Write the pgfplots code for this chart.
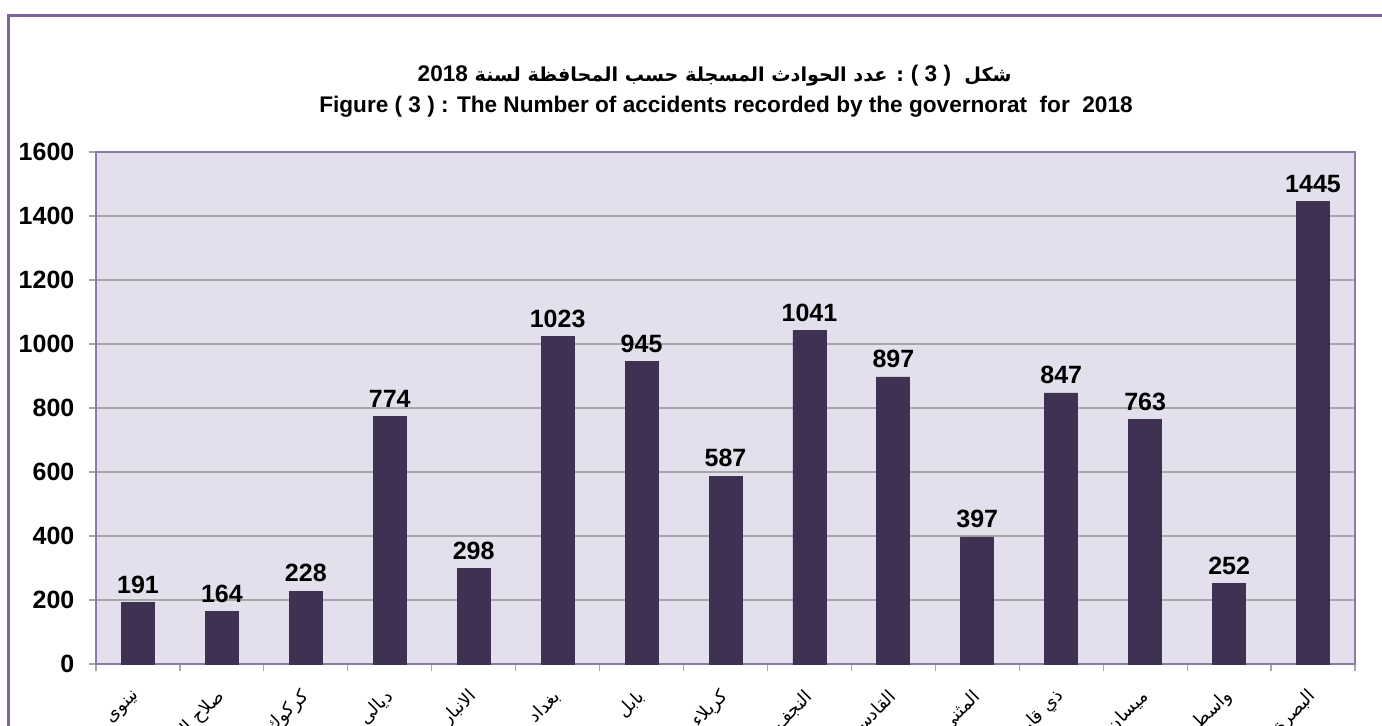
\documentclass[border=0pt]{standalone}
\usepackage{pgfplots}
\pgfplotsset{compat=1.18}
\usepackage{fontspec}
\setmainfont{Liberation Sans}
\newfontfamily\arabicfont[Script=Arabic]{DejaVu Sans}
\TeXXeTstate=1
\definecolor{barcol}{HTML}{3F3151}
\definecolor{plotbg}{HTML}{E4DFEC}
\definecolor{purp}{HTML}{8064A2}
\definecolor{axpurp}{HTML}{8C7BA5}
\definecolor{gridgray}{HTML}{A6A6A6}
\begin{document}
\begin{tikzpicture}
\useasboundingbox (0,0) rectangle (691pt,362.5pt);
\clip (0,0) rectangle (691pt,362.5pt);
\draw[purp, line width=1.5pt] (4.25pt,-20pt) rectangle (720pt,354.6pt);
\node[anchor=base east, inner sep=0pt, font=\bfseries\fontsize{11.3}{13}\selectfont] at (506pt,322pt)
 {{\arabicfont\bfseries\fontsize{9.6}{12}\selectfont\beginR شكل\ \ {\normalfont\bfseries\fontsize{11.3}{13}\selectfont\beginL( 3 )\endL} : عدد الحوادث المسجلة حسب المحافظة لسنة {\normalfont\bfseries\fontsize{11.3}{13}\selectfont\beginL 2018\endL}\endR}};
\node[anchor=base, inner sep=0pt, font=\bfseries\fontsize{11.3}{13}\selectfont] at (363pt,306.5pt)
 {Figure ( 3 ) : The Number of accidents recorded by the governorat\ \ for\ \ 2018};
\begin{axis}[
  at={(48pt,30.5pt)}, anchor=south west,
  width=629.5pt, height=256pt, scale only axis,
  xmin=0.5, xmax=15.5, ymin=0, ymax=1600,
  ybar, bar width=16.5pt,
  axis background/.style={fill=plotbg},
  axis line style={draw=axpurp, line width=1.2pt},
  ymajorgrids, grid style={draw=gridgray, line width=0.7pt},
  ytick={0,200,...,1600},
  xtick={1,...,15},
  minor xtick={0.5,1.5,...,15.5},
  tick align=outside,
  xtick pos=bottom, ytick pos=left,
  major tick length=3.5pt, minor tick length=3.5pt,
  major x tick style={draw=none},
  minor x tick style={draw=gridgray, line width=0.6pt},
  major y tick style={draw=gridgray, line width=0.6pt},
  /pgf/number format/assume math mode=true,
  /pgf/number format/1000 sep={},
  yticklabel style={font=\bfseries\fontsize{12.5}{15}\selectfont, xshift=-3.8pt},
  xticklabels={{\beginR نينوى\endR},{\beginR صلاح الدين\endR},{\beginR كركوك\endR},{\beginR ديالى\endR},{\beginR الانبار\endR},{\beginR بغداد\endR},{\beginR بابل\endR},{\beginR كربلاء\endR},{\beginR النجف\endR},{\beginR القادسية\endR},{\beginR المثنى\endR},{\beginR ذي قار\endR},{\beginR ميسان\endR},{\beginR واسط\endR},{\beginR البصرة\endR}},
  xticklabel style={font=\arabicfont\fontsize{9}{11}\selectfont, anchor=east, xshift=2.5pt, yshift=-9pt, rotate=45},
  nodes near coords={\bfseries\pgfmathprintnumber[assume math mode=true,1000 sep={}]{\pgfplotspointmeta}},
  every node near coord/.append style={font=\bfseries\fontsize{12.5}{15}\selectfont, text=black, yshift=1pt},
]
\addplot[fill=barcol, draw=barcol] coordinates {
(1,191) (2,164) (3,228) (4,774) (5,298) (6,1023) (7,945) (8,587)
(9,1041) (10,897) (11,397) (12,847) (13,763) (14,252) (15,1445)};
\end{axis}
\end{tikzpicture}
\end{document}
